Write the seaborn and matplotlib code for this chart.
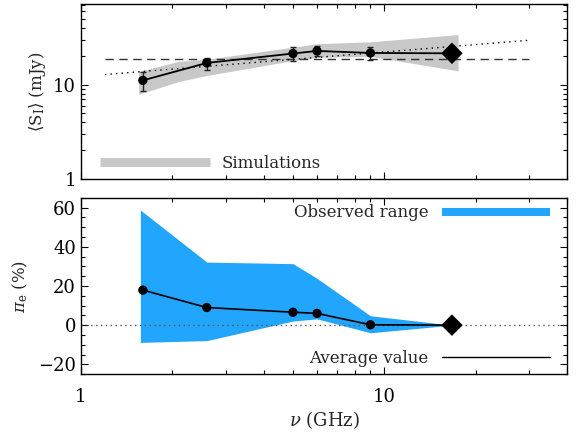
import numpy as np
import pandas as pd
import matplotlib
matplotlib.use('Agg')
import matplotlib.pyplot as plt
import matplotlib.ticker as mticker
from matplotlib.lines import Line2D
import seaborn as sns

# ---------------- data ----------------
nu = [1.6, 2.6, 5.0, 6.0, 9.0]          # GHz, observed bands
nu_diamond = [16.7]                      # GHz, highest band
S_mean = [11.1, 17.0, 21.4, 22.8, 21.7]  # mJy
S_lo = [8.5, 14.4, 18.0, 19.9, 18.2]
S_hi = [13.7, 19.2, 24.9, 26.0, 24.9]
S_diamond = [21.5]

sim_nu = [1.55, 2.1, 2.6, 5.0, 6.0, 9.0, 17.5]
sim_lo = [7.9, 10.8, 12.5, 18.0, 19.5, 20.0, 14.0]
sim_hi = [13.8, 17.7, 18.6, 25.0, 27.2, 28.5, 34.0]

flat_nu = [1.2, 30.0]
flat_S = [18.6, 18.6]
fit_nu = [1.2, 30.0]
fit_S = [12.8, 29.6]

pi_mean = [17.9, 9.0, 6.6, 6.0, 0.2]     # %
pi_diamond = [0.0]
obs_nu = [1.57, 2.6, 5.0, 6.0, 9.0, 16.7]
obs_lo = [-8.8, -7.9, 2.1, 3.2, -3.9, 0.0]
obs_hi = [58.8, 32.2, 31.4, 23.9, 4.8, 0.0]

BLUE = '#22a5fd'
GREY = '#c8c8c8'

sns.set_theme(style='ticks', rc={
    'xtick.direction': 'in', 'ytick.direction': 'in',
    'xtick.top': True, 'ytick.right': True,
    'xtick.major.size': 5, 'ytick.major.size': 5,
    'xtick.minor.size': 2.8, 'ytick.minor.size': 2.8,
    'xtick.major.width': 0.8, 'ytick.major.width': 0.8,
    'xtick.minor.width': 0.8, 'ytick.minor.width': 0.8,
    'axes.linewidth': 1.0, 'axes.edgecolor': 'black',
    'xtick.color': 'black', 'ytick.color': 'black',
})
plt.rcParams['font.family'] = ['DejaVu Serif', 'DejaVu Sans']
plt.rcParams['mathtext.fontset'] = 'dejavuserif'

fig = plt.figure(figsize=(5.78, 4.32), dpi=100)
ax1 = fig.add_axes([0.140, 0.586, 0.841, 0.405])
ax2 = fig.add_axes([0.140, 0.134, 0.841, 0.408])

top = pd.DataFrame({'nu': nu + nu_diamond, 'S': S_mean + S_diamond})
bot = pd.DataFrame({'nu': nu + nu_diamond, 'pi': pi_mean + pi_diamond})

# ---------------- top panel ----------------
ax1.fill_between(sim_nu, sim_lo, sim_hi, color=GREY, lw=0, zorder=1)
sns.lineplot(x=flat_nu, y=flat_S, ax=ax1, color='#333333', lw=1.0,
             dashes=False, zorder=2).lines[-1].set_dashes((6, 4))
ax1.plot(fit_nu, fit_S, color='black', lw=1.0, ls=(0, (1, 3)), zorder=2)
sns.lineplot(data=top, x='nu', y='S', ax=ax1, color='black', lw=1.3, zorder=3)
yerr = [np.array(S_mean) - np.array(S_lo), np.array(S_hi) - np.array(S_mean)]
ax1.errorbar(nu, S_mean, yerr=yerr, fmt='none', ecolor='#222222',
             elinewidth=1.0, capsize=2.2, capthick=1.0, zorder=3)
sns.scatterplot(x=nu, y=S_mean, ax=ax1, color='black', s=45,
                edgecolor='none', zorder=4)
sns.scatterplot(x=nu_diamond, y=S_diamond, ax=ax1, color='black', marker='D',
                s=120, edgecolor='none', zorder=4)

ax1.set_xscale('log')
ax1.set_yscale('log')
ax1.set_xlim(1, 40)
ax1.set_ylim(1, 72)
ax1.yaxis.set_major_locator(mticker.FixedLocator([1, 10]))
ax1.yaxis.set_major_formatter(mticker.FixedFormatter(['1', '10']))
ax1.yaxis.set_minor_locator(mticker.LogLocator(base=10, subs=np.arange(2, 10)))
ax1.yaxis.set_minor_formatter(mticker.NullFormatter())
ax1.xaxis.set_minor_locator(mticker.LogLocator(base=10, subs=np.arange(2, 10)))
ax1.xaxis.set_major_formatter(mticker.NullFormatter())
ax1.xaxis.set_minor_formatter(mticker.NullFormatter())
ax1.set_xlabel('')
ax1.set_ylabel(r'$\langle$S$_{\rm I}\rangle$ (mJy)', fontsize=12, labelpad=4)
ax1.tick_params(axis='y', labelsize=13)

h_sim = Line2D([], [], color=GREY, lw=6.5, solid_capstyle='butt')
ax1.legend([h_sim], ['Simulations'], loc='center left',
           bbox_to_anchor=(0.039, 0.089), frameon=False, fontsize=12,
           handlelength=6.6, handletextpad=0.7, borderpad=0, borderaxespad=0)

# ---------------- bottom panel ----------------
ax2.fill_between(obs_nu, obs_lo, obs_hi, color=BLUE, lw=0, zorder=1)
ax2.axhline(0, color='#555555', lw=1.0, ls=(0, (1, 2.5)), zorder=2)
sns.lineplot(data=bot, x='nu', y='pi', ax=ax2, color='black', lw=1.2, zorder=3)
sns.scatterplot(x=nu, y=pi_mean, ax=ax2, color='black', s=45,
                edgecolor='none', zorder=4)
sns.scatterplot(x=nu_diamond, y=pi_diamond, ax=ax2, color='black', marker='D',
                s=120, edgecolor='none', zorder=4)

ax2.set_xscale('log')
ax2.set_xlim(1, 40)
ax2.set_ylim(-25, 65)
ax2.xaxis.set_major_locator(mticker.FixedLocator([1, 10]))
ax2.xaxis.set_major_formatter(mticker.FixedFormatter(['1', '10']))
ax2.xaxis.set_minor_locator(mticker.LogLocator(base=10, subs=np.arange(2, 10)))
ax2.xaxis.set_minor_formatter(mticker.NullFormatter())
ax2.yaxis.set_major_locator(mticker.MultipleLocator(20))
ax2.yaxis.set_minor_locator(mticker.MultipleLocator(5))
ax2.tick_params(axis='both', labelsize=13)
ax2.tick_params(axis='x', pad=10)
ax2.set_xlabel(r'$\nu$ (GHz)', fontsize=13, labelpad=2)
ax2.set_ylabel(r'$\pi_{\rm e}$ (%)', fontsize=12, labelpad=6)

h_obs = Line2D([], [], color=BLUE, lw=5.8, solid_capstyle='butt')
leg = ax2.legend([h_obs], ['Observed range'], loc='center right',
                 bbox_to_anchor=(0.965, 0.915), frameon=False, fontsize=12,
                 markerfirst=False, handlelength=6.5, handletextpad=0.8,
                 borderpad=0, borderaxespad=0)
ax2.add_artist(leg)
h_avg = Line2D([], [], color='black', lw=1.0)
ax2.legend([h_avg], ['Average value'], loc='center right',
           bbox_to_anchor=(0.965, 0.091), frameon=False, fontsize=12,
           markerfirst=False, handlelength=6.5, handletextpad=0.8,
           borderpad=0, borderaxespad=0)

fig.savefig('out.png', dpi=100)
